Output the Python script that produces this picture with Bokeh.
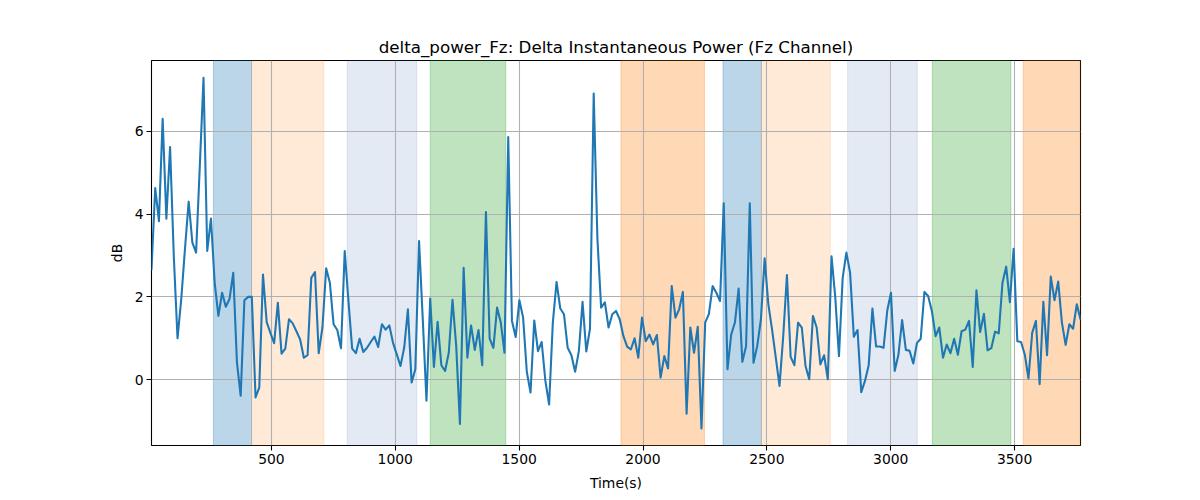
import numpy as np
from bokeh.plotting import figure
from bokeh.models import BoxAnnotation, FixedTicker, Range1d
from bokeh.embed import file_html
from bokeh.resources import INLINE

# ---- data ----
t_start = 16
t_step = 15
delta_power_db = [
    2.66, 4.63, 3.83, 6.30, 3.89, 5.62, 2.98, 1.00, 1.94, 3.15,
    4.30, 3.31, 3.07, 5.16, 7.29, 3.11, 3.89, 2.34, 1.54, 2.10,
    1.76, 1.95, 2.58, 0.41, -0.39, 1.92, 2.00, 2.00, -0.43, -0.19,
    2.54, 1.39, 1.13, 0.88, 1.86, 0.63, 0.75, 1.46, 1.36, 1.17,
    0.97, 0.53, 0.59, 2.46, 2.60, 0.64, 1.26, 2.69, 2.34, 1.34,
    1.20, 0.76, 3.11, 1.90, 0.75, 0.64, 0.99, 0.67, 0.77, 0.91,
    1.04, 0.79, 1.34, 1.21, 1.31, 0.89, 0.61, 0.33, 0.77, 1.70,
    -0.07, 0.25, 3.35, 1.46, -0.51, 1.96, 0.31, 1.40, 0.35, 0.21,
    0.65, 1.93, 0.81, -1.07, 2.70, 0.53, 1.31, 0.72, 1.20, 0.35,
    4.05, 0.99, 0.77, 1.74, 1.38, 0.65, 5.86, 1.42, 1.03, 1.92,
    1.50, 0.19, -0.31, 1.43, 0.69, 0.91, -0.03, -0.60, 1.38, 2.36,
    1.72, 1.58, 0.77, 0.59, 0.19, 0.69, 1.88, 0.68, 1.23, 6.91,
    3.40, 1.74, 1.87, 1.26, 1.58, 1.66, 1.46, 1.05, 0.80, 0.73,
    1.00, 0.53, 1.50, 0.93, 1.09, 0.85, 1.08, 0.05, 0.57, 0.27,
    2.26, 1.50, 1.70, 2.12, -0.82, 1.26, 0.65, 1.28, -1.18, 1.38,
    1.59, 2.26, 2.10, 1.90, 4.26, 0.25, 1.09, 1.38, 2.20, 0.43,
    0.81, 4.26, 0.41, 0.81, 1.46, 2.93, 1.82, 1.21, 0.53, -0.15,
    1.05, 2.53, 0.55, 0.35, 1.38, 1.26, 0.33, 0.01, 1.54, 1.26,
    0.37, 0.59, 0.01, 2.98, 2.00, 0.57, 2.46, 3.07, 2.58, 1.04,
    1.20, -0.30, -0.03, 0.35, 1.72, 0.80, 0.80, 0.77, 1.67, 2.10,
    0.21, 0.60, 1.44, 0.72, 0.70, 0.39, 0.89, 0.99, 2.12, 2.02,
    1.66, 1.05, 1.26, 0.53, 0.85, 0.64, 0.99, 0.60, 1.17, 1.21,
    1.42, 0.31, 2.16, 1.15, 1.59, 0.71, 0.76, 1.16, 1.12, 2.34,
    2.73, 1.87, 3.16, 0.93, 0.91, 0.61, 0.03, 1.13, 1.42, -0.11,
    1.88, 0.59, 2.49, 1.92, 2.37, 1.38, 0.84, 1.34, 1.23, 1.82,
    1.46,
]
time_s = [t_start + t_step * i for i in range(len(delta_power_db))]

band_starts = [266, 420, 806, 1141, 1911, 2323, 2478, 2826, 3168, 3535]
band_ends = [420, 712, 1087, 1446, 2248, 2478, 2756, 3107, 3485, 3800]
band_kinds = ["blue", "lorange", "lblue", "green", "orange",
              "blue", "lorange", "lblue", "green", "orange"]

x_ticks = [500, 1000, 1500, 2000, 2500, 3000, 3500]
y_ticks = [0, 2, 4, 6]

title_text = "delta_power_Fz: Delta Instantaneous Power (Fz Channel)"
x_label = "Time(s)"
y_label = "dB"

# ---- styles ----
band_style = {
    "blue": ("#1f77b4", 0.30),
    "lorange": ("#ff7f0e", 0.16),
    "lblue": ("#4c72b0", 0.15),
    "green": ("#2ca02c", 0.30),
    "orange": ("#ff7f0e", 0.30),
}
FONT = "DejaVu Sans"

p = figure(width=1190, height=496, output_backend="svg", toolbar_location=None,
           x_range=Range1d(time_s[0], time_s[-1]),
           y_range=Range1d(-1.59, 7.71),
           min_border_left=151, min_border_right=110,
           min_border_top=60, min_border_bottom=51)

p.title.text = title_text
p.title.text_font = FONT
p.title.text_font_size = "16.7px"
p.title.text_font_style = "normal"
p.title.align = "center"
p.title.text_color = "black"
p.title.standoff = 7

for s, e, k in zip(band_starts, band_ends, band_kinds):
    c, a = band_style[k]
    p.add_layout(BoxAnnotation(left=s, right=e, fill_color=c, fill_alpha=a,
                               line_color=c, line_alpha=a, line_width=1,
                               level="image"))

p.line(time_s, delta_power_db, line_color="#1f77b4", line_width=2.08,
       line_join="round", line_cap="round")

p.xaxis.ticker = FixedTicker(ticks=x_ticks)
p.yaxis.ticker = FixedTicker(ticks=y_ticks)
p.xaxis.axis_label = x_label
p.yaxis.axis_label = y_label

for ax in (p.xaxis[0], p.yaxis[0]):
    ax.axis_label_text_font = FONT
    ax.axis_label_text_font_size = "13.9px"
    ax.axis_label_text_font_style = "normal"
    ax.axis_label_text_color = "black"
    ax.major_label_text_font = FONT
    ax.major_label_text_font_size = "13.9px"
    ax.major_label_text_color = "black"
    ax.minor_tick_line_color = None
    ax.major_tick_in = 0
    ax.major_tick_out = 5
    ax.major_tick_line_width = 1.1
    ax.major_tick_line_color = "black"
    ax.axis_line_color = None
    ax.major_label_standoff = 3
p.xaxis.axis_label_standoff = 8
p.yaxis.axis_label_standoff = 7

p.xgrid.grid_line_color = "#b0b0b0"
p.ygrid.grid_line_color = "#b0b0b0"
p.xgrid.grid_line_width = 1.1
p.ygrid.grid_line_width = 1.1

p.outline_line_color = "black"
p.outline_line_width = 1.1
p.outline_line_alpha = 1
p.background_fill_color = "white"
p.border_fill_color = "white"

open("out.html", "w").write(file_html(p, INLINE))
